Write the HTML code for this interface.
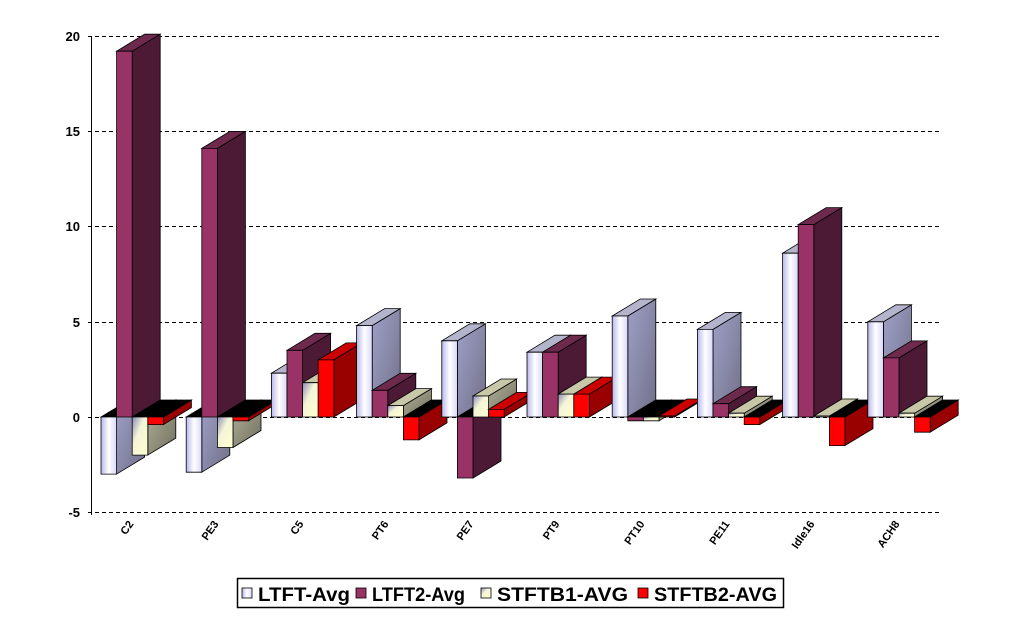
<!DOCTYPE html>
<html><head><meta charset="utf-8"><style>
html,body{margin:0;padding:0;background:#fff;}
svg{display:block;font-family:"Liberation Sans",Arial,sans-serif;}
</style></head><body>
<svg id="c" width="1020" height="619" viewBox="0 0 1020 619" xmlns="http://www.w3.org/2000/svg">
<defs>
<linearGradient id="f0" x1="0" x2="1" y1="0" y2="0"><stop offset="0" stop-color="#b8b8ec"/><stop offset="0.5" stop-color="#ffffff"/><stop offset="1" stop-color="#d8d8f8"/></linearGradient>
<linearGradient id="s0" x1="0" x2="1" y1="0" y2="1"><stop offset="0" stop-color="#a0a0c8"/><stop offset="1" stop-color="#707088"/></linearGradient>
<linearGradient id="f2" x1="0" x2="1" y1="0" y2="1"><stop offset="0" stop-color="#8a8ab8"/><stop offset="0.4" stop-color="#f4f4d8"/><stop offset="1" stop-color="#ffffd0"/></linearGradient>
<linearGradient id="s2" x1="0" x2="1" y1="0" y2="1"><stop offset="0" stop-color="#b0b098"/><stop offset="1" stop-color="#707060"/></linearGradient>
</defs>
<g stroke="#000" stroke-width="1" stroke-dasharray="4,3">
<line x1="88" y1="36.5" x2="942" y2="36.5"/>
<line x1="88" y1="131.5" x2="942" y2="131.5"/>
<line x1="88" y1="226.5" x2="942" y2="226.5"/>
<line x1="88" y1="322.5" x2="942" y2="322.5"/>
<line x1="88" y1="417.5" x2="942" y2="417.5"/>
<line x1="88" y1="512.5" x2="942" y2="512.5"/>
</g>
<line x1="91.5" y1="36" x2="91.5" y2="515" stroke="#000"/>
<g font-size="13" font-weight="bold" text-anchor="end">
<text x="80" y="41">20</text>
<text x="80" y="136">15</text>
<text x="80" y="231">10</text>
<text x="80" y="327">5</text>
<text x="80" y="422">0</text>
<text x="80" y="517">-5</text>
</g>
<g id="bars"></g>
<g font-size="11" font-weight="bold" text-anchor="end">
<text transform="translate(134,524) rotate(-55)">C2</text>
<text transform="translate(219,524) rotate(-55)">PE3</text>
<text transform="translate(304,524) rotate(-55)">C5</text>
<text transform="translate(389,524) rotate(-55)">PT6</text>
<text transform="translate(474,524) rotate(-55)">PE7</text>
<text transform="translate(560,524) rotate(-55)">PT9</text>
<text transform="translate(645,524) rotate(-55)">PT10</text>
<text transform="translate(730,524) rotate(-55)">PE11</text>
<text transform="translate(815,524) rotate(-55)">Idle16</text>
<text transform="translate(900,524) rotate(-55)">ACH8</text>
</g>
<rect x="237.5" y="578.5" width="546" height="29" fill="#fff" stroke="#000" stroke-width="1.5"/>
<g stroke="#000" stroke-width="0.8">
<rect x="242" y="588" width="10" height="10" fill="url(#f0)"/>
<rect x="356" y="588" width="10" height="10" fill="#993366"/>
<rect x="481" y="588" width="10" height="10" fill="url(#f2)"/>
<rect x="638" y="588" width="10" height="10" fill="#ff0000"/>
</g>
<g font-size="19" font-weight="bold">
<text x="258" y="601" textLength="92" lengthAdjust="spacingAndGlyphs">LTFT-Avg</text>
<text x="372" y="601" textLength="93" lengthAdjust="spacingAndGlyphs">LTFT2-Avg</text>
<text x="497" y="601" textLength="131" lengthAdjust="spacingAndGlyphs">STFTB1-AVG</text>
<text x="654" y="601" textLength="123" lengthAdjust="spacingAndGlyphs">STFTB2-AVG</text>
</g>
</svg>
<script>
var data=[[-3.0,19.2,-2.0,-0.4],[-2.9,14.1,-1.6,-0.2],[2.3,3.5,1.8,3.0],[4.8,1.4,0.6,-1.2],[4.0,-3.2,1.1,0.4],[3.4,3.4,1.2,1.2],[5.3,-0.2,-0.2,0.05],[4.6,0.7,0.2,-0.4],[8.6,10.1,0.05,-1.5],[5.0,3.1,0.2,-0.8]];
var front=["url(#f0)","#993366","url(#f2)","#ff0000"];
var side=["url(#s0)","#4d1a36","url(#s2)","#990000"];
var top_=["#b4b4cc","#6e2a4c","#c8c8a8","#cc0000"];
var y0=417,k=19.05,dx=28,dy=-17,w=15.6;
var g=document.getElementById("bars"),s="";
function P(pts,f){return '<polygon points="'+pts.map(function(p){return p[0].toFixed(1)+","+p[1].toFixed(1)}).join(" ")+'" fill="'+f+'" stroke="#000" stroke-width="0.8"/>';}
for(var i=0;i<10;i++){for(var j=0;j<4;j++){
var v=data[i][j],x=101+85.2*i+w*j,yv=y0-v*k;
var yt=Math.min(yv,y0),yb=Math.max(yv,y0);
s+=P([[x+w,yt],[x+w+dx,yt+dy],[x+w+dx,yb+dy],[x+w,yb]],side[j]);
var tc=v<0?"#000":top_[j];
s+=P([[x,yt],[x+dx,yt+dy],[x+w+dx,yt+dy],[x+w,yt]],tc);
s+=P([[x,yt],[x+w,yt],[x+w,yb],[x,yb]],front[j]);
}}
g.innerHTML=s;
</script>
</body></html>
